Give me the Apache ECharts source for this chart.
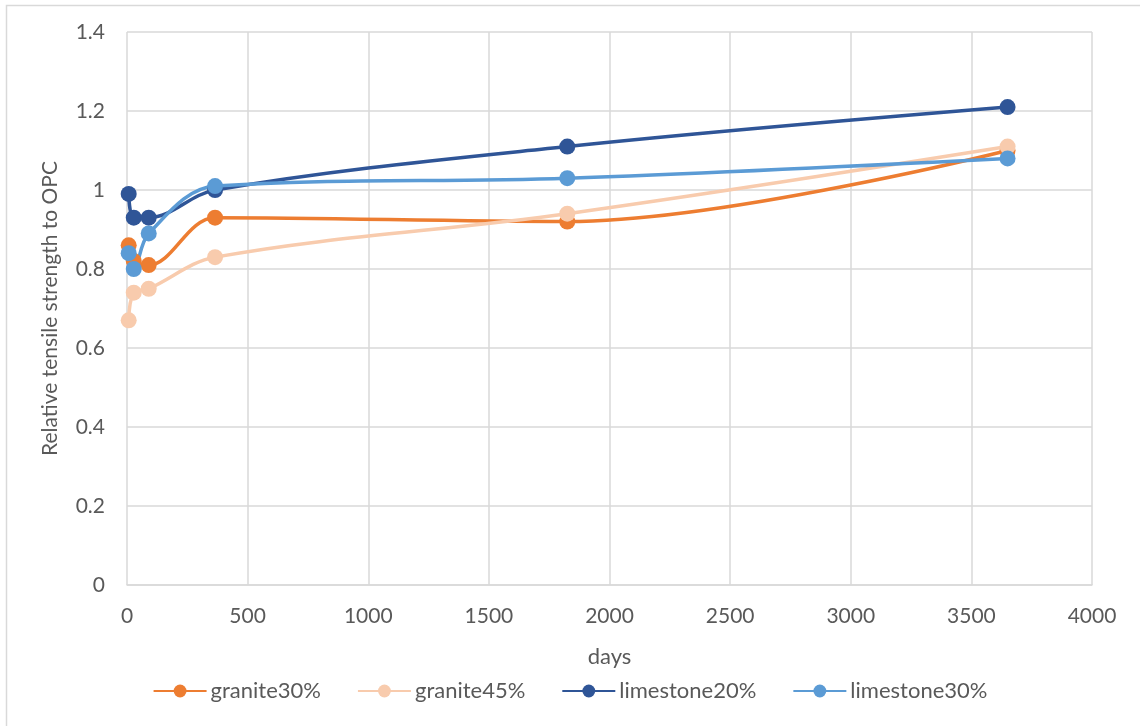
<!DOCTYPE html>
<html>
<head>
<meta charset="utf-8">
<script src="https://cdn.jsdelivr.net/npm/echarts@6/dist/echarts.min.js"></script>
<style>
html,body{margin:0;padding:0;background:#fff;}
#chart{width:1140px;height:726px;}
</style>
</head>
<body>
<div id="chart"></div>
<script>
// Age of specimens (days)
const days = [7, 28, 90, 365, 1825, 3650];
// Relative tensile strength to OPC for each mix
const granite30 = [0.86, 0.82, 0.81, 0.93, 0.92, 1.10];
const granite45 = [0.67, 0.74, 0.75, 0.83, 0.94, 1.11];
const limestone20 = [0.99, 0.93, 0.93, 1.00, 1.11, 1.21];
const limestone30 = [0.84, 0.80, 0.89, 1.01, 1.03, 1.08];
const seriesNames = ['granite30%', 'granite45%', 'limestone20%', 'limestone30%'];
const seriesColors = ['#ED7D31', '#F8CBAD', '#2F5597', '#5B9BD5'];
const seriesValues = [granite30, granite45, limestone20, limestone30];

const font = 'Lato, "Open Sans", "Noto Sans", sans-serif';
const textColor = '#595959';
const chart = echarts.init(document.getElementById('chart'));

chart.setOption({
  animation: false,
  backgroundColor: '#fff',
  graphic: [{
    type: 'polyline',
    shape: { points: [[6.5, 726], [6.5, 5.5], [1140, 5.5]] },
    style: { fill: 'none', stroke: '#d9d9d9', lineWidth: 1.5 },
    silent: true
  }],
  grid: { left: 127, right: 48, top: 32, bottom: 141 },
  legend: {
    bottom: 19,
    left: 'center',
    itemWidth: 53,
    itemHeight: 16,
    itemGap: 36,
    textStyle: { fontSize: 22, color: textColor, fontFamily: font, padding: [0, 0, 0, -1] },
    data: seriesNames
  },
  xAxis: {
    type: 'value',
    min: 0, max: 4000, interval: 500,
    name: 'days',
    nameLocation: 'middle',
    nameGap: 61,
    nameTextStyle: { fontSize: 22, color: textColor, fontFamily: font },
    axisLine: { show: true, lineStyle: { color: '#d9d9d9', width: 1.5 } },
    axisTick: { show: false },
    axisLabel: {
      fontSize: 21, color: textColor, fontFamily: font, margin: 21,
      formatter: v => String(v)
    },
    splitLine: { show: true, lineStyle: { color: '#d9d9d9', width: 1.5 } }
  },
  yAxis: {
    type: 'value',
    min: 0, max: 1.4, interval: 0.2,
    name: 'Relative tensile strength to OPC',
    nameLocation: 'middle',
    nameGap: 66,
    nameTextStyle: { fontSize: 21, color: textColor, fontFamily: font },
    axisLine: { show: false },
    axisTick: { show: false },
    axisLabel: {
      fontSize: 21, color: textColor, fontFamily: font, margin: 22,
      formatter: v => String(v)
    },
    splitLine: { show: true, lineStyle: { color: '#d9d9d9', width: 1.5 } }
  },
  series: seriesNames.map((name, i) => ({
    name: name,
    type: 'line',
    smooth: 0.35,
    data: days.map((d, j) => [d, seriesValues[i][j]]),
    symbol: 'circle',
    symbolSize: 16,
    lineStyle: { width: 3.5, color: seriesColors[i] },
    itemStyle: { color: seriesColors[i] }
  }))
});
</script>
</body>
</html>
